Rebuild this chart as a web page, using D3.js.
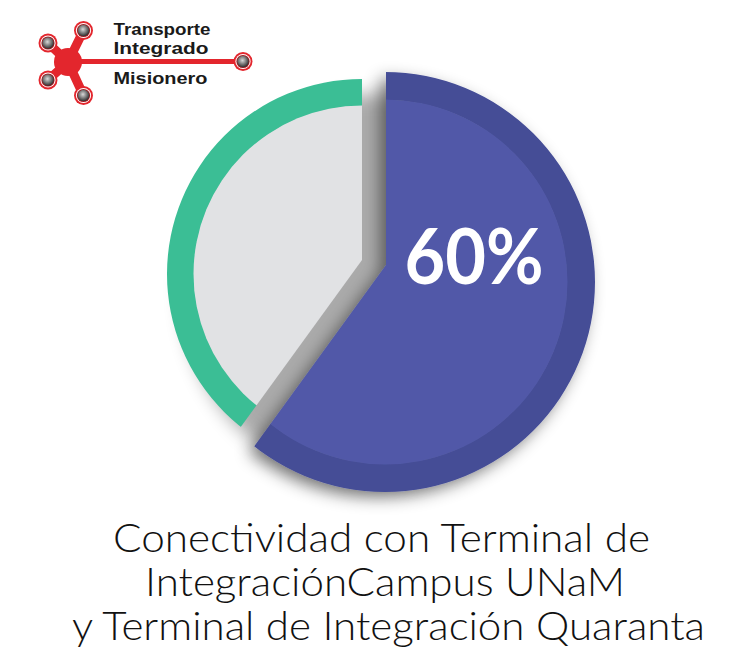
<!DOCTYPE html>
<html>
<head>
<meta charset="utf-8">
<script src="https://cdn.jsdelivr.net/npm/d3@7"></script>
<style>
  html, body { margin: 0; padding: 0; background: #ffffff; }
  svg { display: block; }
</style>
</head>
<body>
<svg id="chart" width="747" height="663"></svg>
<script>
// ---- data ----
const categories = ["Conectividad", "Resto"];
const values = [60, 40];
const valueLabels = ["60%"];
const titleLines = [
  "Conectividad con Terminal de",
  "IntegraciónCampus UNaM",
  "y Terminal de Integración Quaranta"
];
const logoLines = ["Transporte", "Integrado", "Misionero"];

// ---- drawing ----
const svg = d3.select("#chart");
const defs = svg.append("defs");

const shadow = defs.append("filter").attr("id", "shadow")
  .attr("x", "-30%").attr("y", "-30%").attr("width", "160%").attr("height", "160%");
shadow.append("feDropShadow")
  .attr("dx", -6).attr("dy", 6).attr("stdDeviation", 8)
  .attr("flood-color", "#000").attr("flood-opacity", 0.45);

const blur = defs.append("filter").attr("id", "blur")
  .attr("x", "-30%").attr("y", "-30%").attr("width", "160%").attr("height", "160%");
blur.append("feGaussianBlur").attr("stdDeviation", 9);

const ballGrad = defs.append("radialGradient").attr("id", "ball")
  .attr("cx", "45%").attr("cy", "40%").attr("r", "60%");
ballGrad.append("stop").attr("offset", "0%").attr("stop-color", "#d8d8d8");
ballGrad.append("stop").attr("offset", "55%").attr("stop-color", "#7a7a7a");
ballGrad.append("stop").attr("offset", "100%").attr("stop-color", "#2c2c2c");

const pie = d3.pie().sort(null).value(d => d);
const arcsData = pie(values);

const colorInner = ["#5159a8", "#e1e2e4"];
const colorOuter = ["#454d96", "#3bbe95"];

const layout = [
  { center: [385, 282], apex: [386, 265], rIn: 182, rOut: 210 },
  { center: [362, 274], apex: [362, 260], rIn: 168, rOut: 195 }
];

const wedge = d3.arc().innerRadius(0).outerRadius(600);
const ring = d3.arc();

// soft shadow bed behind the pie (shows through the gap between slices)
svg.append("path")
  .attr("transform", "translate(378,290)")
  .attr("d", ring({ innerRadius: 0, outerRadius: 196, startAngle: 0, endAngle: 2 * Math.PI }))
  .attr("fill", "#000")
  .attr("opacity", 0.33)
  .attr("filter", "url(#blur)");

// draw gray slice first, then blue on top (with shadow)
[1, 0].forEach(i => {
  const a = arcsData[i];
  const L = layout[i];
  defs.append("clipPath").attr("id", "clip" + i)
    .append("path")
    .attr("transform", `translate(${L.apex[0]},${L.apex[1]})`)
    .attr("d", wedge({ startAngle: a.startAngle, endAngle: a.endAngle }));

  const outerG = svg.append("g").attr("filter", i === 0 ? "url(#shadow)" : null);
  const g = outerG.append("g").attr("clip-path", `url(#clip${i})`)
    .append("g").attr("transform", `translate(${L.center[0]},${L.center[1]})`);

  g.append("path")
    .attr("d", ring({ innerRadius: L.rIn, outerRadius: L.rOut, startAngle: 0, endAngle: 2 * Math.PI }))
    .attr("fill", colorOuter[i]);
  g.append("path")
    .attr("d", ring({ innerRadius: 0, outerRadius: L.rIn + 0.5, startAngle: 0, endAngle: 2 * Math.PI }))
    .attr("fill", colorInner[i]);
});

// value label
svg.append("text")
  .attr("x", 474).attr("y", 284)
  .attr("text-anchor", "middle")
  .attr("font-family", "Lato, 'Open Sans', sans-serif")
  .attr("font-weight", 700)
  .attr("font-size", 76)
  .attr("fill", "#ffffff")
  .attr("textLength", 139)
  .attr("lengthAdjust", "spacingAndGlyphs")
  .text(valueLabels[0]);

// title
const titleX = [381.5, 385, 388.5];
const titleW = [537, 480, 633];
const titleY = [552, 596, 640];
svg.append("g").selectAll("text").data(titleLines).join("text")
  .attr("x", (d, i) => titleX[i])
  .attr("y", (d, i) => titleY[i])
  .attr("text-anchor", "middle")
  .attr("font-family", "Lato, 'Open Sans', sans-serif")
  .attr("font-weight", 300)
  .attr("font-size", 40)
  .attr("fill", "#111111")
  .attr("textLength", (d, i) => titleW[i])
  .attr("lengthAdjust", "spacingAndGlyphs")
  .text(d => d);

// ---- logo ----
const logo = svg.append("g");
const red = "#e3262d";
const hub = [68, 62];
const nodes = [[83.5, 30.5], [48, 43], [48, 80], [83.5, 95.5]];
const endNode = [243, 61.5];

logo.append("line")
  .attr("x1", hub[0]).attr("y1", 61.5).attr("x2", endNode[0]).attr("y2", 61.5)
  .attr("stroke", red).attr("stroke-width", 5);
logo.selectAll("line.arm").data(nodes).join("line").attr("class", "arm")
  .attr("x1", hub[0]).attr("y1", hub[1])
  .attr("x2", d => d[0]).attr("y2", d => d[1])
  .attr("stroke", red).attr("stroke-width", 9).attr("stroke-linecap", "round");
logo.append("circle").attr("cx", hub[0]).attr("cy", hub[1]).attr("r", 14).attr("fill", red);

const allNodes = nodes.concat([endNode]);
const nodeG = logo.selectAll("g.node").data(allNodes).join("g").attr("class", "node")
  .attr("transform", d => `translate(${d[0]},${d[1]})`);
nodeG.append("circle").attr("r", 9.5).attr("fill", red);
nodeG.append("circle").attr("r", 7.6).attr("fill", "#ffffff");
nodeG.append("circle").attr("r", 6.6).attr("fill", "#a01c22");
nodeG.append("circle").attr("r", 5.8).attr("fill", "url(#ball)");

const logoY = [35, 53.5, 84];
const logoW = [97, 95, 94];
logo.selectAll("text").data(logoLines).join("text")
  .attr("x", 113.5)
  .attr("y", (d, i) => logoY[i])
  .attr("font-family", "'Liberation Sans', Arial, sans-serif")
  .attr("font-weight", 700)
  .attr("font-size", 16.5)
  .attr("fill", "#1a1a1a")
  .attr("textLength", (d, i) => logoW[i])
  .attr("lengthAdjust", "spacingAndGlyphs")
  .text(d => d);
</script>
</body>
</html>
